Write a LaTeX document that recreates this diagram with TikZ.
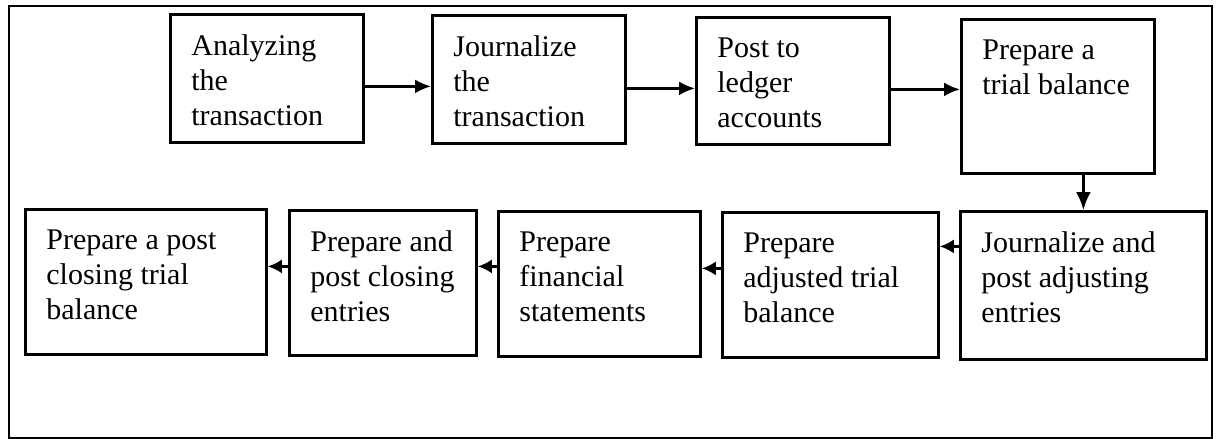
\documentclass[tikz,border=0pt]{standalone}
\usepackage{fontspec}
\setmainfont{Liberation Serif}
\usepackage{tikz}
\usetikzlibrary{arrows.meta}

\newcommand{\stagefont}{\fontsize{15}{17.5}\selectfont}
% text block of a stage: width, height, lines
\newcommand{\stagetext}[3]{\parbox[t][#2][t]{#1}{\raggedright #3}}

\tikzset{
  stage/.style={draw, line width=1.4pt, anchor=north west, inner xsep=10.5pt, inner ysep=10pt, font=\stagefont},
  flow/.style={line width=1.2pt, -{Latex[length=8pt, width=7pt]}},
  backflow/.style={flow, -{Latex[length=7pt, width=7pt]}},
}

\begin{document}
\begin{tikzpicture}[x=0.5pt, y=-0.5pt]
  \useasboundingbox (0, 0) rectangle (1217, 439);
  \draw[line width=1.1pt] (9, 6) rectangle (1212, 438);

  % top row
  \node[stage] (analyze) at (169, 13) {\stagetext{75.5pt}{44pt}{Analyzing\\the\\transaction}};
  \node[stage] (journal) at (431, 14) {\stagetext{75.5pt}{44pt}{Journalize\\the\\transaction}};
  \node[stage] (ledger) at (695, 16) {\stagetext{75.5pt}{43.5pt}{Post to\\ledger\\accounts}};
  \node[stage] (trial) at (960, 18) {\stagetext{75.5pt}{57pt}{Prepare a\\trial balance}};

  % bottom row
  \node[stage] (adjust) at (959, 210) {\stagetext{102pt}{54pt}{Journalize and\\post adjusting\\entries}};
  \node[stage] (adjtrial) at (721, 211) {\stagetext{87pt}{52.5pt}{Prepare\\adjusted trial\\balance}};
  \node[stage] (statements) at (497, 210) {\stagetext{80pt}{52.5pt}{Prepare\\financial\\statements}};
  \node[stage] (closing) at (288, 209) {\stagetext{72.5pt}{52.5pt}{Prepare and\\post closing\\entries}};
  \node[stage] (postclosing) at (24, 208) {\stagetext{99.5pt}{52.5pt}{Prepare a post\\closing trial\\balance}};

  \draw[flow] ([yshift=-4pt]analyze.east) -- ([yshift=-4pt]analyze.east -| journal.west);
  \draw[flow] ([yshift=-4.5pt]journal.east) -- ([yshift=-4.5pt]journal.east -| ledger.west);
  \draw[flow] ([yshift=-4.25pt]ledger.east) -- ([yshift=-4.25pt]ledger.east -| trial.west);
  \draw[flow, -{Latex[length=9pt, width=7.5pt]}] (trial.south -| adjust.north) -- (adjust.north);

  \draw[backflow] ([yshift=19.5pt]adjust.west) -- ([yshift=19.5pt]adjust.west -| adjtrial.east);
  \draw[backflow] ([yshift=8.25pt]adjtrial.west) -- ([yshift=8.25pt]adjtrial.west -| statements.east);
  \draw[backflow] ([yshift=8.75pt]statements.west) -- ([yshift=8.75pt]statements.west -| closing.east);
  \draw[backflow] ([yshift=8.25pt]closing.west) -- ([yshift=8.25pt]closing.west -| postclosing.east);
\end{tikzpicture}
\end{document}
